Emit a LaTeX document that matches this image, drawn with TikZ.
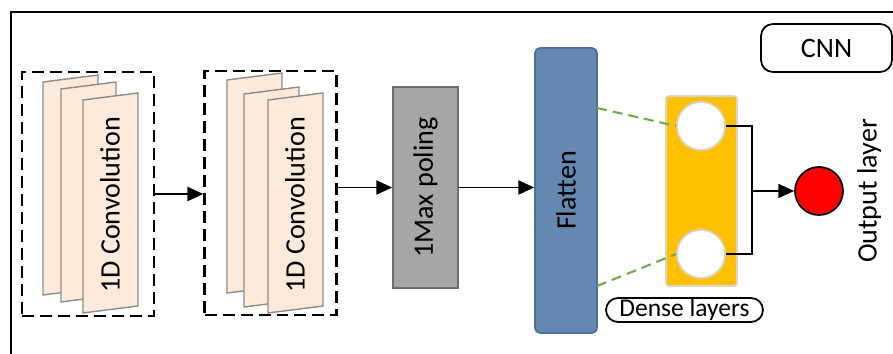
\documentclass[tikz,border=0pt]{standalone}
\usepackage{fontspec}
\setmainfont{Carlito}
\usetikzlibrary{arrows.meta,positioning}

\definecolor{sheetfill}{HTML}{FDEADA}
\definecolor{sheetdraw}{HTML}{8C8C8C}
\definecolor{poolfill}{HTML}{A6A6A6}
\definecolor{pooldraw}{HTML}{6E6E6E}
\definecolor{flatfill}{HTML}{6488B0}
\definecolor{flatdraw}{HTML}{4E6F96}
\definecolor{densefill}{HTML}{FFC000}
\definecolor{densedraw}{HTML}{D6D6D6}
\definecolor{linkgreen}{HTML}{70AD47}

\tikzset{
  arr/.style={-{Triangle[length=9pt,width=8pt]}, line width=1.1pt},
  convbox/.style={draw, line width=1.4pt, dash pattern=on 0.24cm off 0.12cm,
                  minimum width=2.64cm, minimum height=4.88cm, inner sep=0pt},
  sheet/.style={draw=sheetdraw, fill=sheetfill, line width=0.8pt},
  vtext/.style={rotate=90, font=\fontsize{16}{19}\selectfont},
  neuron/.style={circle, draw=densedraw, fill=white, line width=1pt,
                 minimum size=0.96cm, inner sep=0pt},
  tag/.style={draw, line width=1pt, inner sep=0pt},
  link/.style={draw=linkgreen, line width=1.2pt, dash pattern=on 0.2cm off 0.12cm},
}

\begin{document}
\begin{tikzpicture}[x=0.02cm, y=-0.02cm]
    \useasboundingbox (0,0) rectangle (893,354);
    \draw[line width=1pt] (11,354) -- (11,12) -- (893,12);

    % convolution blocks
    \node[convbox] (conv1) at (88,194) {};
    \foreach \x/\y in {43/82, 61/89, 83/100}
        \draw[sheet] (\x,\y) -- ++(55,-7) -- ++(0,213) -- ++(-55,7) -- cycle;
    \node[vtext] (conv1txt) at (110,205) {1D Convolution};

    \node[convbox] (conv2) at (270.5,193) {};
    \foreach \x/\y in {227/80, 244/94, 268/100}
        \draw[sheet] (\x,\y) -- ++(55,-7) -- ++(0,213) -- ++(-55,7) -- cycle;
    \node[vtext] (conv2txt) at (295,205) {1D Convolution};

    % pooling and flatten
    \node[draw=pooldraw, fill=poolfill, line width=1pt, minimum width=1.3cm,
          minimum height=4.02cm, inner sep=0pt] (pool) at (425.5,187.5) {};
    \node[vtext] (pooltxt) at (pool.center) {1Max poling};

    \node[draw=flatdraw, fill=flatfill, line width=1pt, rounded corners=0.1cm,
          minimum width=1.24cm, minimum height=5.7cm, inner sep=0pt] (flatten) at (566,190.5) {};
    \node[vtext] (flattxt) at (flatten.center) {Flatten};

    % dense layers
    \node[draw=densedraw, fill=densefill, line width=1pt, rounded corners=0.06cm,
          minimum width=1.42cm, minimum height=3.8cm, inner sep=0pt] (dense) at (701.5,191) {};
    \node[neuron] (n1) at (701,126) {};
    \node[neuron] (n2) at (701,254) {};
    \node[circle, draw, fill=red, line width=1pt, minimum size=0.96cm,
          inner sep=0pt] (out) at (819,191) {};
    \node[vtext] (outtxt) at (869,191) {Output layer};

    \node[tag, rounded corners=0.24cm, minimum width=3.14cm, minimum height=0.48cm,
          font=\fontsize{14.5}{17}\selectfont] (densetag) at (684.5,310) {Dense layers};
    \node[tag, rounded corners=0.24cm, minimum width=2.62cm, minimum height=0.96cm,
          font=\fontsize{16}{19}\selectfont] (cnn) at (826.5,48) {CNN};

    % connections
    \draw[arr] (conv1.east) -- (conv2.west |- conv1.east);
    \draw[arr] (conv2.east |- pool.west) -- (pool.west);
    \draw[arr] (pool.east) -- (flatten.west |- pool.east);

    \coordinate (f1) at (597,108);
    \coordinate (f2) at (597,286);
    \draw[link] (f1) -- (n1.west);
    \draw[link] (f2) -- (n2.west);

    \coordinate (join) at (752,191);
    \draw[line width=1.1pt] (n1.east) -| (join) |- (n2.east);
    \draw[arr] (join) -- (out.west);
\end{tikzpicture}
\end{document}
